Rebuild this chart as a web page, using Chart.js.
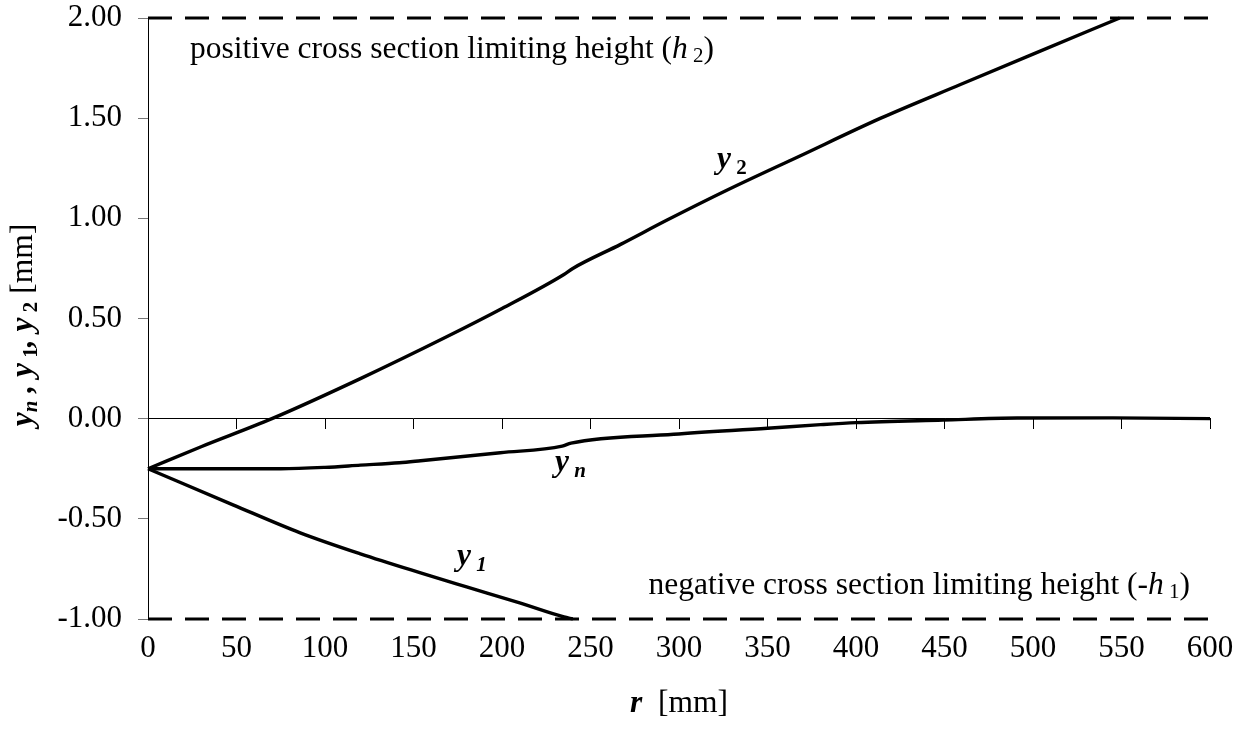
<!DOCTYPE html>
<html>
<head>
<meta charset="utf-8">
<script src="https://cdn.jsdelivr.net/npm/chart.js@4.4.0/dist/chart.umd.min.js"></script>
<style>
  html, body { margin: 0; padding: 0; background: #fff; }
</style>
</head>
<body>
<canvas id="chart" width="1246" height="740"></canvas>
<script>
// data: r [mm] and heights [mm]
const y2R   = [0, 30, 70, 120, 169, 200, 235, 240, 267, 293, 327, 368, 414, 459, 500, 549];
const y2Val = [-0.25, -0.14, 0.0, 0.2, 0.41, 0.55, 0.72, 0.75, 0.87, 0.99, 1.14, 1.31, 1.50, 1.668, 1.82, 2.0];

const ynR   = [0, 40, 75, 100, 120, 142, 154, 199, 234, 239, 297, 350, 380, 400, 449, 491, 545, 600];
const ynVal = [-0.25, -0.25, -0.25, -0.243, -0.232, -0.22, -0.21, -0.17, -0.137, -0.122, -0.078, -0.048, -0.03, -0.02, -0.007, 0.003, 0.004, 0.0];

const y1R   = [0, 48, 86, 120, 154, 180, 210, 235, 240];
const y1Val = [-0.25, -0.43, -0.57, -0.675, -0.77, -0.84, -0.92, -0.99, -1.0];

const limitR = [0, 600];
const h2 = 2.0;
const negH1 = -1.0;

const xTicks = [0, 50, 100, 150, 200, 250, 300, 350, 400, 450, 500, 550, 600];
const yTicks = [-1.0, -0.5, 0.0, 0.5, 1.0, 1.5, 2.0];

const FONT = '"Liberation Serif", "Times New Roman", serif';
const N   = `31.5px ${FONT}`;
const I   = `italic 31.5px ${FONT}`;
const BI  = `bold italic 31.5px ${FONT}`;
const SUB = `21px ${FONT}`;
const SB  = `bold 21px ${FONT}`;
const SBI = `bold italic 21px ${FONT}`;

const pts = (xs, ys) => xs.map((x, i) => ({ x, y: ys[i] }));

// draw a run of text pieces with different fonts, [text, font, dy]
const drawParts = (ctx, parts, x, y, align) => {
  let w = 0;
  parts.forEach(p => { ctx.font = p[1]; w += ctx.measureText(p[0]).width; });
  let cx = align === 'right' ? x - w : align === 'center' ? x - w / 2 : x;
  parts.forEach(p => {
    ctx.font = p[1];
    ctx.fillText(p[0], cx, y + (p[2] || 0));
    cx += ctx.measureText(p[0]).width;
  });
};

const textPlugin = {
  id: 'texts',
  afterDraw(chart) {
    const { ctx, scales: { x, y }, chartArea } = chart;
    ctx.save();
    ctx.fillStyle = '#000';
    ctx.textBaseline = 'alphabetic';

    drawParts(ctx, [['positive cross section limiting height (', N], ['h', I], [' 2', SUB, 4], [')', N]],
      x.getPixelForValue(23.7), y.getPixelForValue(1.80), 'left');
    drawParts(ctx, [['negative cross section limiting height (-', N], ['h', I], [' 1', SUB, 4], [')', N]],
      x.getPixelForValue(588.7), y.getPixelForValue(-0.877), 'right');

    drawParts(ctx, [['y', BI], [' 2', SB, 6]], x.getPixelForValue(321.5), y.getPixelForValue(1.25), 'left');
    drawParts(ctx, [['y', BI], [' n', SBI, 6]], x.getPixelForValue(230), y.getPixelForValue(-0.26), 'left');
    drawParts(ctx, [['y', BI], [' 1', SBI, 6]], x.getPixelForValue(174.6), y.getPixelForValue(-0.732), 'left');

    // x axis title
    drawParts(ctx, [['r', BI], ['  [mm]', N]], (chartArea.left + chartArea.right) / 2, 712, 'center');

    // y axis title, rotated
    ctx.translate(32, 325);
    ctx.rotate(-Math.PI / 2);
    drawParts(ctx, [['y', BI], ['n', SBI, 5], [' , ', BI], ['y', BI], [' 1', SB, 5], [', ', BI], ['y', BI], [' 2', SB, 5], [' [mm]', N]], 0, 0, 'center');
    ctx.restore();
  }
};

const solid = (data) => ({
  data, borderColor: '#000', borderWidth: 3.4, pointRadius: 0,
  cubicInterpolationMode: 'monotone', clip: false
});
const dashed = (val) => ({
  data: pts(limitR, limitR.map(() => val)), borderColor: '#000', borderWidth: 3,
  borderDash: [24, 13], pointRadius: 0, clip: false
});

new Chart(document.getElementById('chart'), {
  type: 'line',
  data: {
    datasets: [
      solid(pts(y2R, y2Val)),
      solid(pts(ynR, ynVal)),
      solid(pts(y1R, y1Val)),
      dashed(h2),
      dashed(negH1)
    ]
  },
  options: {
    responsive: false,
    animation: false,
    devicePixelRatio: 1,
    layout: { padding: { top: 18, right: 36, left: 0, bottom: 0 } },
    plugins: { legend: { display: false }, tooltip: { enabled: false } },
    scales: {
      x: {
        type: 'linear', position: 'bottom', min: 0, max: 600,
        afterBuildTicks: s => { s.ticks = xTicks.map(v => ({ value: v })); },
        afterFit: s => { s.height = 121; s.paddingLeft = 0; s.paddingRight = 0; },
        grid: { display: false, drawTicks: false },
        border: { display: false },
        ticks: { color: '#000', font: { family: FONT, size: 31 }, padding: 11, maxRotation: 0, autoSkip: false }
      },
      xz: {
        type: 'linear', axis: 'x', position: { y: 0 }, min: 0, max: 600,
        afterBuildTicks: s => { s.ticks = xTicks.map(v => ({ value: v })); },
        afterFit: s => { s.paddingLeft = 0; s.paddingRight = 0; s.paddingTop = 0; s.paddingBottom = 0; },
        grid: { drawOnChartArea: false, drawTicks: true, tickLength: 10, color: '#000' },
        border: { display: true, color: '#000', width: 1 },
        ticks: { display: false }
      },
      y: {
        type: 'linear', position: 'left', min: -1, max: 2,
        afterBuildTicks: s => { s.ticks = yTicks.map(v => ({ value: v })); },
        afterFit: s => { s.width = 148; s.paddingTop = 0; s.paddingBottom = 0; },
        grid: { drawOnChartArea: false, drawTicks: true, tickLength: 10, color: '#777' },
        border: { display: true, color: '#000', width: 1 },
        ticks: { color: '#000', font: { family: FONT, size: 31 }, padding: 16, callback: v => v.toFixed(2) }
      }
    }
  },
  plugins: [textPlugin]
});
</script>
</body>
</html>
